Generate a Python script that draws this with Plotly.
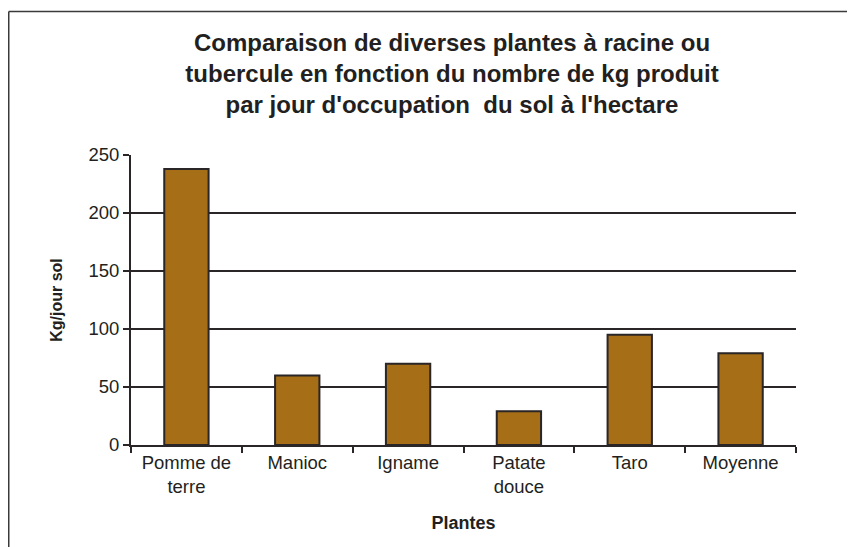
import plotly.graph_objects as go

categories = ["Pomme de<br>terre", "Manioc", "Igname", "Patate<br>douce", "Taro", "Moyenne"]
values = [238, 60, 70, 29, 95, 79]
y_ticks = [0, 50, 100, 150, 200, 250]
grid_ticks = [50, 100, 150, 200]

title_text = ("Comparaison de diverses plantes à racine ou<br>"
              "tubercule en fonction du nombre de kg produit<br>"
              "par jour d'occupation  du sol à l'hectare")

BAR = "#A56E17"
EDGE = "#2A2526"
FONT = "Liberation Sans, Arial, sans-serif"

# the page body has an 8px margin, so the figure is drawn 8px smaller
W, H = 847, 539
L, R, T, B = 123, 59, 147, 102
PW, PH = W - L - R, H - T - B

fig = go.Figure()
fig.add_trace(go.Bar(
    x=categories, y=values,
    marker=dict(color=BAR, line=dict(color=EDGE, width=2)),
    width=0.4, showlegend=False,
))
fig.add_trace(go.Scatter(x=[], y=[], yaxis="y2", showlegend=False))

fig.update_layout(
    width=W, height=H,
    margin=dict(l=L, r=R, t=T, b=B, pad=0),
    paper_bgcolor="white", plot_bgcolor="white",
    font=dict(family=FONT, color="#231F20"),
    title=dict(text="<b>" + title_text + "</b>", x=444 / W, xanchor="center",
               y=1 - 43 / H, yanchor="bottom", yref="container",
               font=dict(size=24, color="#231F20")),
    xaxis=dict(
        type="category", showline=True, linecolor=EDGE, linewidth=2,
        ticks="outside", tickson="boundaries", ticklen=6, tickwidth=2, tickcolor=EDGE,
        tickfont=dict(size=18.5), showgrid=False,
        title=dict(text="<b>Plantes</b>", font=dict(size=18), standoff=20),
    ),
    yaxis=dict(
        range=[0, 250], tickvals=y_ticks, showgrid=False, zeroline=False,
        showline=True, linecolor=EDGE, linewidth=2,
        ticks="outside", ticklen=6, tickwidth=2, tickcolor=EDGE,
        tickfont=dict(size=18.5),
        title=dict(text="<b>Kg/jour sol</b>", font=dict(size=16), standoff=22),
    ),
    yaxis2=dict(
        range=[0, 250], overlaying="y", anchor="x", tickvals=grid_ticks,
        showgrid=True, gridcolor=EDGE, gridwidth=2, showticklabels=False,
        ticks="", showline=False, zeroline=False,
    ),
    shapes=[
        dict(type="line", xref="paper", yref="paper",
             x0=(0.75 - L) / PW, x1=(W - L) / PW,
             y0=(H - B - 3.5) / PH, y1=(H - B - 3.5) / PH,
             line=dict(color="#3A3A3A", width=1.5)),
        dict(type="line", xref="paper", yref="paper",
             x0=(0.75 - L) / PW, x1=(0.75 - L) / PW,
             y0=(H - B - 3.5) / PH, y1=(-B) / PH,
             line=dict(color="#3A3A3A", width=1.5)),
    ],
)

fig.write_html("out.html")
